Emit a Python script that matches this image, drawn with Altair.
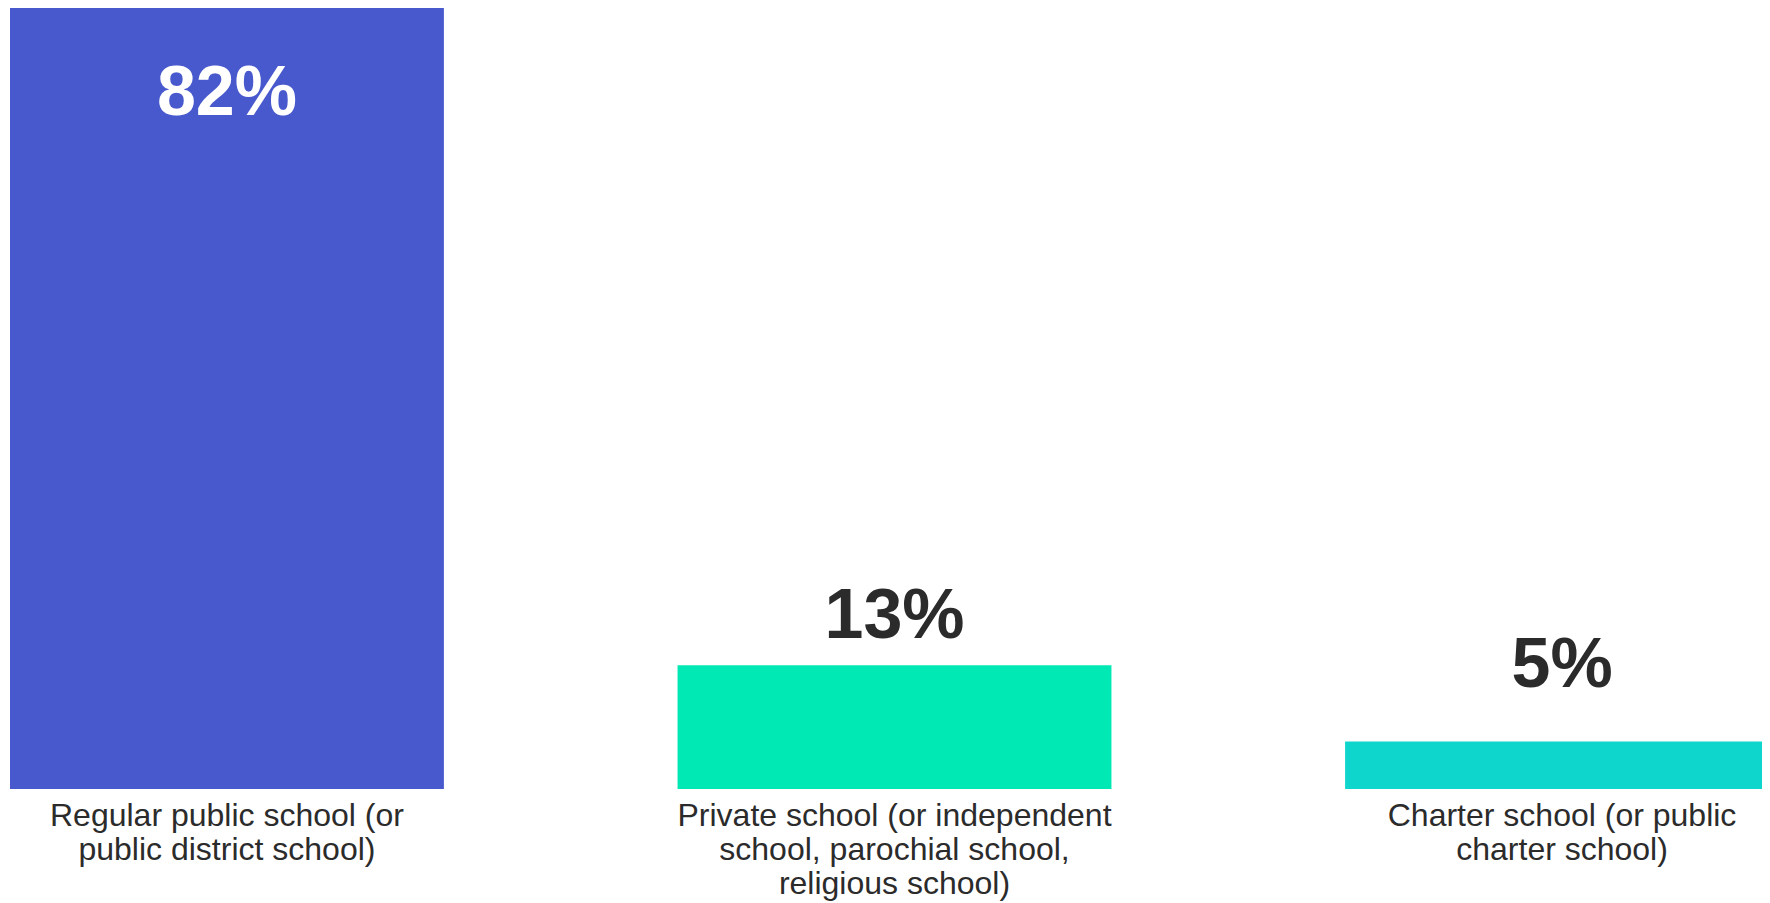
import altair as alt
import pandas as pd

categories = [
    "Regular public school (or\npublic district school)",
    "Private school (or independent\nschool, parochial school,\nreligious school)",
    "Charter school (or public\ncharter school)",
]
values = [82, 13, 5]
value_labels = ["82%", "13%", "5%"]
bar_colors = ["#4759CD", "#00E8B4", "#0ED6CC"]
label_colors = ["#FFFFFF", "#2B2B2B", "#2B2B2B"]
label_dy = [107, -27, -54]

df = pd.DataFrame({
    "cat": categories,
    "value": values,
    "label": value_labels,
    "color": bar_colors,
})

x = alt.X(
    "cat:N",
    sort=categories,
    scale=alt.Scale(range=[2, 1771], paddingInner=0.35, paddingOuter=0),
    axis=alt.Axis(
        title=None,
        ticks=False,
        domain=False,
        grid=False,
        labelAngle=0,
        labelExpr="split(datum.label, '\\n')",
        labelFont="Liberation Sans",
        labelFontSize=32,
        labelLineHeight=34,
        labelColor="#2B2B2B",
        labelPadding=11,
        labelLimit=0,
        labelBaseline="top",
    ),
)
y = alt.Y("value:Q", scale=alt.Scale(domain=[0, 82], nice=False), axis=None)

base = alt.Chart(df)
bars = base.mark_bar().encode(
    x=x, y=y, color=alt.Color("color:N", scale=None, legend=None)
)

layers = [bars]
for cat, col, dy in zip(categories, label_colors, label_dy):
    layers.append(
        base.transform_filter(alt.datum.cat == cat)
        .mark_text(
            font="Liberation Sans",
            fontSize=70,
            fontWeight="bold",
            color=col,
            baseline="alphabetic",
            align="center",
            dy=dy,
        )
        .encode(x=x, y=y, text="label:N")
    )

chart = (
    alt.layer(*layers)
    .properties(
        width=1754,
        height=781,
        autosize=alt.AutoSizeParams(type="none"),
        padding={"left": 0, "top": 0, "right": 0, "bottom": 114},
        background="white",
    )
    .configure_view(stroke=None)
)

chart.save("out.html", embed_options={"renderer": "svg", "actions": False})
